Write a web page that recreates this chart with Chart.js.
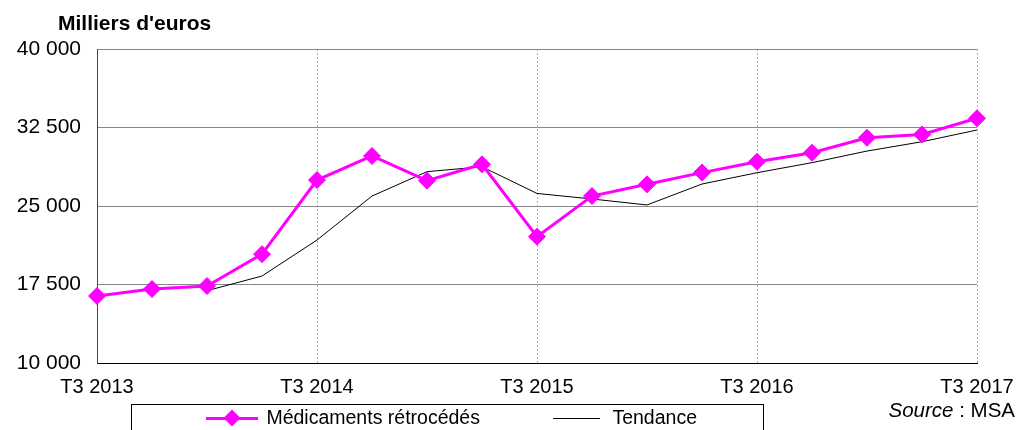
<!DOCTYPE html>
<html>
<head>
<meta charset="utf-8">
<script src="https://cdn.jsdelivr.net/npm/chart.js@4/dist/chart.umd.min.js"></script>
<style>
  body { margin: 0; background: #fff; font-family: "Liberation Sans", Arial, sans-serif; }
  #wrap { position: relative; width: 1019px; height: 430px; overflow: hidden; }
  #title { position: absolute; left: 58px; top: 11px; font-weight: bold; font-size: 21px; }
  #source { position: absolute; right: 4px; top: 398px; font-size: 20.5px; }
  #legend { position: absolute; left: 131px; top: 404px; width: 633px; height: 40px;
            border: 1px solid #000; box-sizing: border-box; font-size: 19.5px; }
  .item { position: absolute; top: 1px; white-space: nowrap; }
  .line { display: inline-block; vertical-align: middle; position: relative; }
  .dia { position: absolute; width: 12px; height: 12px; background: #ff00ff;
         transform: rotate(45deg); left: 20px; top: -5px; }
</style>
</head>
<body>
<div id="wrap">
  <canvas id="chart" width="1019" height="430"></canvas>
  <div id="title">Milliers d'euros</div>
  <div id="legend">
    <div class="item" style="left:74px;">
      <span class="line" style="width:52px;height:3px;background:#ff00ff;"><span class="dia"></span></span>
      <span style="margin-left:3px;">Médicaments rétrocédés</span>
    </div>
    <div class="item" style="left:421px;">
      <span class="line" style="width:47px;height:1px;background:#000;"></span>
      <span style="margin-left:7px;">Tendance</span>
    </div>
  </div>
  <div id="source"><i>Source</i> : MSA</div>
</div>
<script>
// Quarters T3 2013 .. T3 2017
const quarters = [
  "T3 2013", "T4 2013", "T1 2014", "T2 2014",
  "T3 2014", "T4 2014", "T1 2015", "T2 2015",
  "T3 2015", "T4 2015", "T1 2016", "T2 2016",
  "T3 2016", "T4 2016", "T1 2017", "T2 2017",
  "T3 2017"
];
const medicaments = [
  16400, 17070, 17350, 20400,
  27480, 29780, 27420, 28980,
  22070, 25950, 27070, 28190,
  29230, 30090, 31520, 31840,
  33380
];
const tendance = [
  null, null, 16910, 18310,
  21750, 25950, 28280, 28750,
  26200, 25670, 25100, 27100,
  28180, 29140, 30250, 31140,
  32260
];
const yTicks = [10000, 17500, 25000, 32500, 40000];

function fmt(v) {
  return String(v).replace(/\B(?=(\d{3})+(?!\d))/g, " ");
}

const ctx = document.getElementById("chart").getContext("2d");
new Chart(ctx, {
  type: "line",
  data: {
    labels: quarters,
    datasets: [
      {
        label: "Médicaments rétrocédés",
        data: medicaments,
        borderColor: "#ff00ff",
        backgroundColor: "#ff00ff",
        borderWidth: 3,
        pointStyle: "rectRot",
        pointRadius: 8.5,
        pointBorderWidth: 1,
        tension: 0,
        order: 1,
      },
      {
        label: "Tendance",
        data: tendance,
        borderColor: "#000000",
        borderWidth: 1,
        pointRadius: 0,
        tension: 0,
        order: 2,
      },
    ],
  },
  options: {
    responsive: false,
    animation: false,
    layout: { padding: { left: 0, top: 49, right: 42, bottom: 0 } },
    plugins: { legend: { display: false }, tooltip: { enabled: false } },
    scales: {
      x: {
        offset: false,
        grid: {
          color: (c) => (c.index % 4 === 0 && c.index > 0 ? "#b0b0b0" : "rgba(0,0,0,0)"),
          drawTicks: false,
          lineWidth: 1,
        },
        border: { color: "#000", width: 1, dash: [2, 2] },
        ticks: {
          autoSkip: false,
          maxRotation: 0,
          padding: 12,
          color: "#000",
          font: { family: "Liberation Sans", size: 20 },
          callback: function (v, i) { return i % 4 === 0 ? quarters[i] : ""; },
        },
        afterFit: (s) => { s.height = 67; s.paddingLeft = 0; s.paddingRight = 0; },
      },
      y: {
        min: 10000,
        max: 40000,
        afterBuildTicks: (s) => { s.ticks = yTicks.map((v) => ({ value: v })); },
        grid: { color: "#888888", drawTicks: false, lineWidth: 1 },
        border: { color: "#444", width: 1 },
        ticks: {
          padding: 16,
          color: "#000",
          font: { family: "Liberation Sans", size: 21 },
          callback: (v) => fmt(v),
        },
        afterFit: (s) => { s.width = 97; },
      },
    },
  },
});
</script>
</body>
</html>
